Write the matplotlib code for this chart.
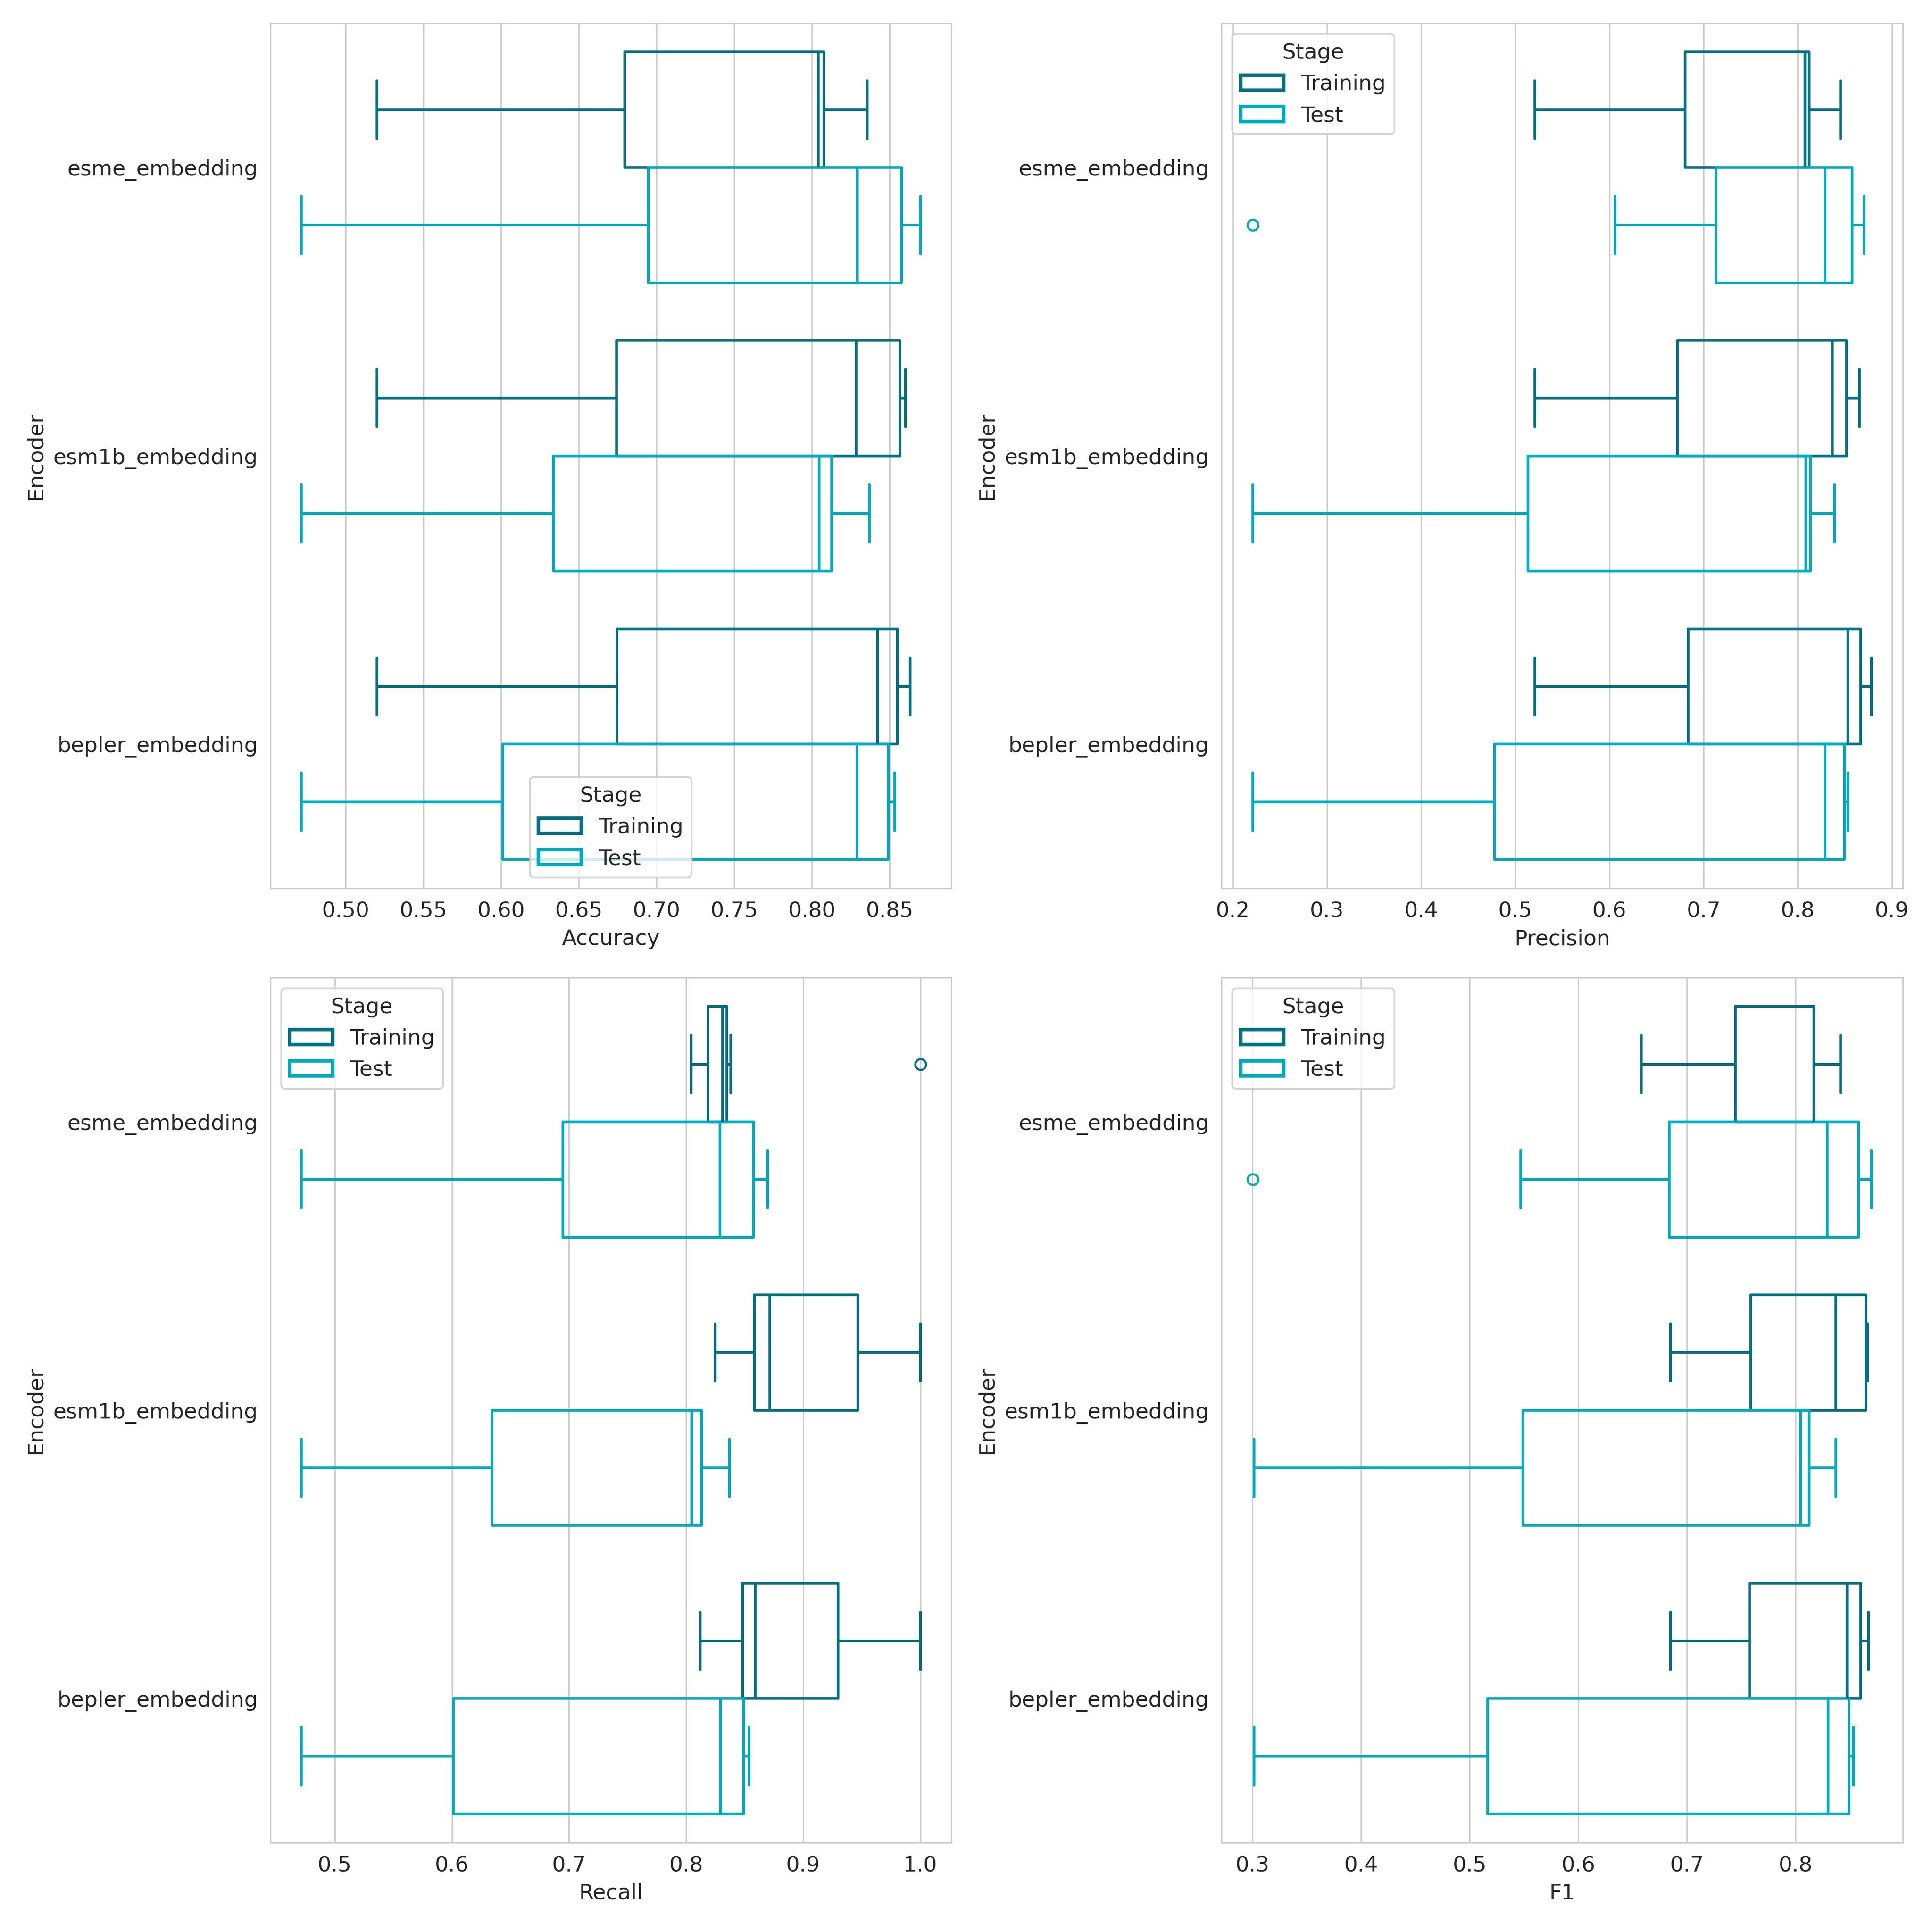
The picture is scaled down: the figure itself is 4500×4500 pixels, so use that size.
import matplotlib
matplotlib.use("Agg")
import matplotlib.pyplot as plt
import seaborn as sns
from matplotlib.patches import Patch

sns.set_style("whitegrid")
plt.rcParams["font.family"] = ["DejaVu Sans"]
plt.rcParams["font.size"] = 12
plt.rcParams["xtick.labelsize"] = 12
plt.rcParams["ytick.labelsize"] = 12
plt.rcParams["legend.fontsize"] = 12
plt.rcParams["legend.title_fontsize"] = 12

encoders = ["esme_embedding", "esm1b_embedding", "bepler_embedding"]
stages = ["Training", "Test"]
metrics = ["Accuracy", "Precision", "Recall", "F1"]
colors = ["#036f80", "#00aabd"]

# per encoder: whisker low, q1, median, q3, whisker high
accuracy_train = [[0.520, 0.6795, 0.8040, 0.8076, 0.8356],
                  [0.520, 0.6743, 0.8284, 0.8566, 0.8601],
                  [0.520, 0.6745, 0.8423, 0.8550, 0.8633]]
accuracy_test = [[0.4714, 0.6947, 0.8292, 0.8578, 0.8698],
                 [0.4714, 0.6336, 0.8046, 0.8128, 0.8370],
                 [0.4714, 0.6010, 0.8291, 0.8492, 0.8534]]
accuracy_fliers_train = [[], [], []]
accuracy_fliers_test = [[], [], []]

precision_train = [[0.5209, 0.6806, 0.8074, 0.8123, 0.8454],
                   [0.5209, 0.6721, 0.8370, 0.8518, 0.8657],
                   [0.5209, 0.6835, 0.8533, 0.8669, 0.8785]]
precision_test = [[0.6062, 0.7134, 0.8289, 0.8576, 0.8704],
                  [0.2210, 0.5134, 0.8083, 0.8135, 0.8393],
                  [0.2210, 0.4779, 0.8292, 0.8495, 0.8533]]
precision_fliers_train = [[], [], []]
precision_fliers_test = [[0.2210], [], []]

recall_train = [[0.8045, 0.8187, 0.8312, 0.8348, 0.8382],
                [0.8248, 0.8584, 0.8716, 0.9465, 1.0],
                [0.8122, 0.8484, 0.8590, 0.9299, 1.0]]
recall_test = [[0.4714, 0.6947, 0.8290, 0.8576, 0.8697],
               [0.4714, 0.6342, 0.8046, 0.8130, 0.8371],
               [0.4714, 0.6011, 0.8293, 0.8492, 0.8537]]
recall_fliers_train = [[1.0], [], []]
recall_fliers_test = [[], [], []]

f1_train = [[0.6580, 0.7447, 0.8168, 0.8168, 0.8415],
            [0.6849, 0.7588, 0.8372, 0.8648, 0.8663],
            [0.6849, 0.7578, 0.8475, 0.8601, 0.8673]]
f1_test = [[0.5470, 0.6837, 0.8291, 0.8580, 0.8701],
           [0.3014, 0.5490, 0.8048, 0.8128, 0.8372],
           [0.3014, 0.5166, 0.8299, 0.8492, 0.8535]]
f1_fliers_train = [[], [], []]
f1_fliers_test = [[0.3002], [], []]

panels = [
    (accuracy_train, accuracy_test, accuracy_fliers_train, accuracy_fliers_test, "lower center"),
    (precision_train, precision_test, precision_fliers_train, precision_fliers_test, "upper left"),
    (recall_train, recall_test, recall_fliers_train, recall_fliers_test, "upper left"),
    (f1_train, f1_test, f1_fliers_train, f1_fliers_test, "upper left"),
]


def make_stats(summary, fliers):
    stats = []
    for s, f in zip(summary, fliers):
        stats.append(dict(whislo=s[0], q1=s[1], med=s[2], q3=s[3], whishi=s[4], fliers=f))
    return stats


fig, axes = plt.subplots(2, 2, figsize=(15, 15))
lw = 1.5
width = 0.4

for ax, metric, (tr, te, ftr, fte, loc) in zip(axes.flat, metrics, panels):
    for k, (summary, fl) in enumerate([(tr, ftr), (te, fte)]):
        c = colors[k]
        pos = [i - 0.2 + k * 0.4 for i in range(len(encoders))]
        ax.bxp(make_stats(summary, fl), positions=pos, widths=width,
               capwidths=width * 0.5, orientation="horizontal", manage_ticks=False,
               boxprops=dict(color=c, linewidth=lw),
               medianprops=dict(color=c, linewidth=lw),
               whiskerprops=dict(color=c, linewidth=lw),
               capprops=dict(color=c, linewidth=lw),
               flierprops=dict(marker="o", markerfacecolor="none",
                               markeredgecolor=c, markersize=6, markeredgewidth=1.2))
    ax.set_yticks(range(len(encoders)))
    ax.set_yticklabels(encoders)
    ax.set_ylim(len(encoders) - 0.5, -0.5)
    ax.set_xlabel(metric)
    ax.set_ylabel("Encoder")
    ax.grid(axis="y", visible=False)
    handles = [Patch(facecolor="none", edgecolor=colors[k], linewidth=2.0, label=stages[k])
               for k in range(2)]
    ax.legend(handles=handles, title="Stage", loc=loc)

plt.tight_layout()
plt.savefig("out.png", dpi=300)
